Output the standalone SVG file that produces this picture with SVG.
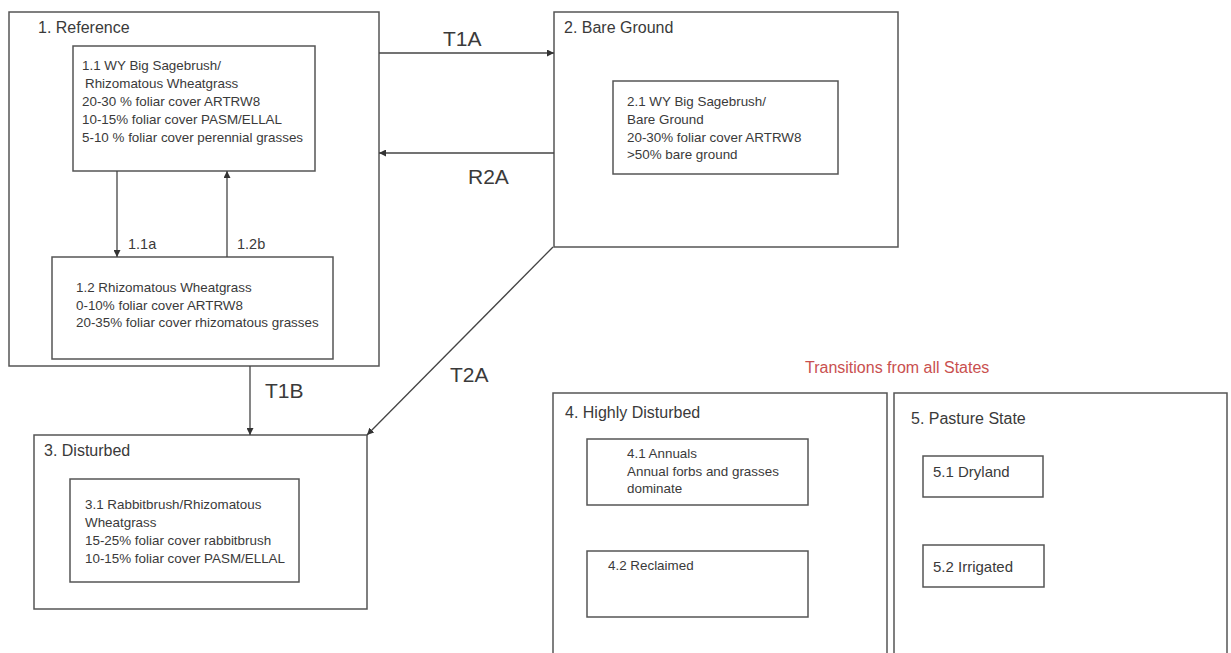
<svg xmlns="http://www.w3.org/2000/svg" width="1231" height="653" viewBox="0 0 1231 653">
<style>
.box{fill:none;stroke:#555;stroke-width:1.5}
.t{font-family:"Liberation Sans",Arial,sans-serif;fill:#3a3a3a}
.title{font-size:16px}
.small{font-size:13.4px}
.lbl{font-size:21px}
.mid{font-size:15px}
.tiny{font-size:14.5px}
.red{font-family:"Liberation Sans",Arial,sans-serif;font-size:16px;fill:#c9504f}
.conn{stroke:#444;stroke-width:1.3;fill:none;marker-end:url(#ah)}
</style>
<defs>
<marker id="ah" viewBox="0 0 10 10" refX="10" refY="5" markerWidth="7" markerHeight="7" markerUnits="userSpaceOnUse" orient="auto">
<path d="M0,0 L10,5 L0,10 z" fill="#333"/>
</marker>
</defs>
<rect width="1231" height="653" fill="#fff"/>

<g id="state1">
<rect class="box" x="9" y="12" width="370" height="354"/>
<text class="t title" x="38" y="33">1. Reference</text>
</g>
<g id="phase11">
<rect class="box" x="73" y="46" width="242" height="125"/>
<text class="t small" x="82" y="70">1.1 WY Big Sagebrush/</text>
<text class="t small" x="85" y="88">Rhizomatous Wheatgrass</text>
<text class="t small" x="82" y="106">20-30 % foliar cover ARTRW8</text>
<text class="t small" x="82" y="124">10-15% foliar cover PASM/ELLAL</text>
<text class="t small" x="82" y="142">5-10 % foliar cover perennial grasses</text>
</g>
<g id="phase12">
<rect class="box" x="52" y="257" width="281" height="102"/>
<text class="t small" x="76" y="292">1.2 Rhizomatous Wheatgrass</text>
<text class="t small" x="76" y="310">0-10% foliar cover ARTRW8</text>
<text class="t small" x="76" y="327">20-35% foliar cover rhizomatous grasses</text>
</g>

<g id="state2">
<rect class="box" x="554" y="12" width="344" height="235"/>
<text class="t title" x="564" y="33">2.  Bare Ground</text>
</g>
<g id="phase21">
<rect class="box" x="613" y="81" width="225" height="93"/>
<text class="t small" x="627" y="106">2.1 WY Big Sagebrush/</text>
<text class="t small" x="627" y="124">Bare Ground</text>
<text class="t small" x="627" y="142">20-30% foliar cover ARTRW8</text>
<text class="t small" x="627" y="159">&gt;50% bare ground</text>
</g>

<g id="state3">
<rect class="box" x="34" y="435" width="333" height="174"/>
<text class="t title" x="44" y="456">3. Disturbed</text>
</g>
<g id="phase31">
<rect class="box" x="70" y="479" width="229" height="103"/>
<text class="t small" x="85" y="509">3.1 Rabbitbrush/Rhizomatous</text>
<text class="t small" x="85" y="527">Wheatgrass</text>
<text class="t small" x="85" y="545">15-25% foliar cover rabbitbrush</text>
<text class="t small" x="85" y="563">10-15% foliar cover PASM/ELLAL</text>
</g>

<text class="red" x="805" y="373">Transitions from all States</text>

<g id="state4">
<rect class="box" x="553" y="393" width="334" height="270"/>
<text class="t title" x="565" y="418">4.  Highly Disturbed</text>
</g>
<g id="phase41">
<rect class="box" x="587" y="439" width="221" height="66"/>
<text class="t small" x="627" y="458">4.1 Annuals</text>
<text class="t small" x="627" y="476">Annual forbs and grasses</text>
<text class="t small" x="627" y="493">dominate</text>
</g>
<g id="phase42">
<rect class="box" x="587" y="551" width="221" height="66"/>
<text class="t small" x="608" y="570">4.2 Reclaimed</text>
</g>

<g id="state5">
<rect class="box" x="894" y="393" width="333" height="270"/>
<text class="t title" x="911" y="424">5. Pasture State</text>
</g>
<g id="phase51">
<rect class="box" x="923" y="456" width="120" height="41"/>
<text class="t mid" x="933" y="477">5.1 Dryland</text>
</g>
<g id="phase52">
<rect class="box" x="923" y="545" width="121" height="42"/>
<text class="t mid" x="933" y="572">5.2 Irrigated</text>
</g>

<g id="connectors">
<line class="conn" x1="379" y1="53" x2="554" y2="53"/>
<line class="conn" x1="554" y1="153" x2="379" y2="153"/>
<line class="conn" x1="117" y1="171" x2="117" y2="257"/>
<line class="conn" x1="227" y1="257" x2="227" y2="171"/>
<line class="conn" x1="250" y1="366" x2="250" y2="435"/>
<line class="conn" x1="553" y1="247" x2="367" y2="435"/>
<text class="t lbl" x="443" y="46">T1A</text>
<text class="t lbl" x="468" y="184">R2A</text>
<text class="t tiny" x="128" y="249">1.1a</text>
<text class="t tiny" x="237" y="249">1.2b</text>
<text class="t lbl" x="265" y="398">T1B</text>
<text class="t lbl" x="450" y="382">T2A</text>
</g>
</svg>
